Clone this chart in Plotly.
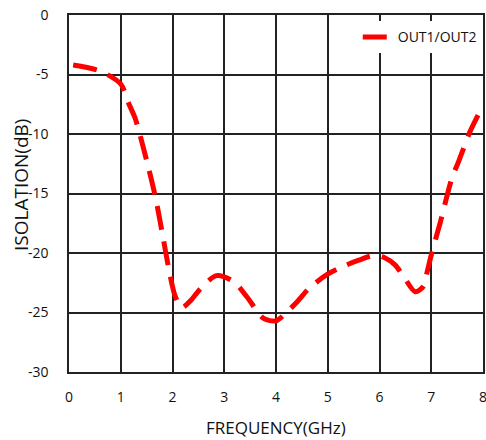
import plotly.graph_objects as go

# frequency (GHz) and isolation (dB)
freq = [0.08, 0.6, 1.0, 1.14, 1.28, 1.44, 1.67, 1.83, 1.95, 2.05, 2.18, 2.35, 2.54,
        2.85, 3.18, 3.44, 3.76, 4.0, 4.2, 4.41, 4.63, 4.99, 5.31, 5.6, 5.9, 6.1,
        6.3, 6.47, 6.69, 6.85, 6.92, 7.01, 7.17, 7.4, 7.53, 7.75, 8.0]
isolation = [-4.2, -4.7, -5.8, -7.3, -8.7, -11.2, -15.3, -19.0, -21.8, -23.6, -24.6,
             -24.0, -23.0, -21.9, -22.4, -23.7, -25.5, -25.7, -25.0, -24.1, -23.0,
             -21.8, -21.1, -20.6, -20.2, -20.4, -21.0, -22.0, -23.25, -22.8, -21.6,
             -20.0, -17.5, -13.7, -12.3, -9.8, -7.6]

x_ticks = [0, 1, 2, 3, 4, 5, 6, 7, 8]
y_ticks = [0, -5, -10, -15, -20, -25, -30]
y_labels = ["0", "-5", "-10", "-15", "-20", "-25", "-30"]

font_family = "Open Sans, Liberation Sans, sans-serif"

fig = go.Figure()
fig.add_trace(go.Scatter(
    x=freq, y=isolation, mode="lines", name="OUT1/OUT2",
    line=dict(color="#ff0000", width=5, dash="24px,12px", shape="spline", smoothing=0.8),
))

fig.update_layout(
    width=486, height=440,
    margin=dict(l=69, r=3, t=15, b=68),
    paper_bgcolor="white", plot_bgcolor="white",
    font=dict(family=font_family, size=14, color="#111"),
    showlegend=True,
    legend=dict(
        x=0.997, y=0.982, xanchor="right", yanchor="top",
        bgcolor="white", borderwidth=0,
        font=dict(size=14),
    ),
)
fig.update_xaxes(
    range=[0, 8], tickvals=x_ticks, ticks="", automargin=False,
    ticklabelstandoff=11, ticklabeloverflow="allow",
    showgrid=True, gridcolor="#222", gridwidth=1.5,
    showline=True, linecolor="#222", linewidth=1.5, mirror=True,
    zeroline=False,
)
fig.update_yaxes(
    range=[-30, 0], tickvals=y_ticks, ticktext=y_labels, ticks="", automargin=False,
    ticklabelstandoff=16, ticklabeloverflow="allow",
    showgrid=True, gridcolor="#222", gridwidth=1.5,
    showline=True, linecolor="#222", linewidth=1.5, mirror=True,
    zeroline=False,
)

# axis titles
fig.add_annotation(
    text="FREQUENCY(GHz)", xref="paper", yref="paper", x=0.5, y=0,
    xanchor="center", yanchor="middle", yshift=-55, showarrow=False,
    font=dict(size=17),
)
fig.add_annotation(
    text="ISOLATION(dB)", xref="paper", yref="paper", x=0, y=0.524,
    xanchor="center", yanchor="middle", xshift=-48, textangle=-90, showarrow=False,
    font=dict(size=19),
)

# drop the default 8px page margin so the figure sits at the window's corner
fig.write_html(
    "out.html",
    config={"displayModeBar": False},
    post_script="document.body.style.margin = '0';",
)
